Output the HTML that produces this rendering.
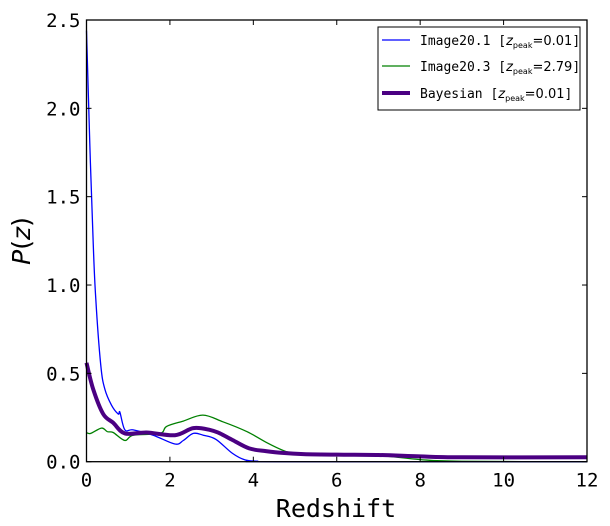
<!DOCTYPE html>
<html><head><meta charset="utf-8"><style>
body{margin:0;background:#fff;}
svg{display:block;}
.tk{font-family:"DejaVu Sans Mono","Liberation Mono",monospace;font-size:19px;fill:#000;}
</style></head><body>
<svg id="chart" width="610" height="526" xmlns="http://www.w3.org/2000/svg">
<g id="plot"></g>
</svg>
<script>
const xTicks=[0,2,4,6,8,10,12];
const xTickLabels=["0","2","4","6","8","10","12"];
const yTicks=[0,0.5,1,1.5,2,2.5];
const yTickLabels=["0.0","0.5","1.0","1.5","2.0","2.5"];
const blueZ=[0,0.08,0.16,0.22,0.34,0.44,0.6,0.76,0.8,0.92,1.12,1.6,2.12,2.32,2.56,2.8,3.1,3.5,3.8,4.1,4.5,12];
const blueP=[2.44,1.8,1.24,0.93,0.55,0.41,0.32,0.27,0.28,0.18,0.18,0.15,0.10,0.12,0.16,0.15,0.127,0.047,0.01,0.003,0,0];
const greenZ=[0,0.1,0.36,0.5,0.64,0.92,1.12,1.76,1.92,2.32,2.79,3.27,3.85,4.33,4.73,4.9,5.3,6,7,8,9,12];
const greenP=[0.164,0.16,0.19,0.17,0.165,0.12,0.15,0.16,0.2,0.23,0.264,0.226,0.17,0.107,0.062,0.052,0.045,0.04,0.035,0.012,0.002,0];
const bayesZ=[0,0.16,0.4,0.64,0.92,1.44,2.12,2.56,2.96,3.2,3.5,3.9,4.3,4.7,5.2,6,7,8,9,12];
const bayesP=[0.56,0.41,0.27,0.22,0.16,0.165,0.15,0.19,0.18,0.16,0.123,0.075,0.06,0.05,0.043,0.04,0.038,0.03,0.025,0.025];

const L=86.5,R=587,T=20,B=461.7;
const xs=z=>L+(z-0)/12*(R-L);
const ys=p=>B-p/2.5*(B-T);
const NS="http://www.w3.org/2000/svg";
const g=document.getElementById('plot');
function mk(t,a){const e=document.createElementNS(NS,t);for(const k in a)e.setAttribute(k,a[k]);g.appendChild(e);return e;}
function smoothPath(zs,ps){
  const P=zs.map((z,i)=>[xs(z),ys(ps[i])]);
  let d='M'+P[0][0].toFixed(1)+','+P[0][1].toFixed(1);
  for(let i=0;i<P.length-1;i++){
    const p0=P[Math.max(0,i-1)],p1=P[i],p2=P[i+1],p3=P[Math.min(P.length-1,i+2)];
    const c1=[p1[0]+(p2[0]-p0[0])/6,p1[1]+(p2[1]-p0[1])/6];
    const c2=[p2[0]-(p3[0]-p1[0])/6,p2[1]-(p3[1]-p1[1])/6];
    d+=' C'+c1.map(v=>v.toFixed(1)).join(',')+' '+c2.map(v=>v.toFixed(1)).join(',')+' '+p2.map(v=>v.toFixed(1)).join(',');
  }
  return d;
}
function series(zs,ps,color,w,name){
  const e=mk('path',{d:smoothPath(zs,ps),fill:'none',stroke:color,'stroke-width':w,'stroke-linejoin':'round'});
  
  
}
series(greenZ,greenP,'#008000',1.3,'image20-3-line');
series(blueZ,blueP,'#0000ff',1.3,'image20-1-line');
series(bayesZ,bayesP,'#4b0082',4,'bayesian-line');
const fr=mk('rect',{x:L,y:T,width:R-L,height:B-T,fill:'none',stroke:'#000','stroke-width':1.3});


xTicks.forEach((v,i)=>{
  const x=xs(v);
  mk('line',{x1:x,x2:x,y1:B,y2:B-5,stroke:'#000'});
  mk('line',{x1:x,x2:x,y1:T,y2:T+5,stroke:'#000'});
  const t=mk('text',{x:x,y:B+25,'text-anchor':'middle',class:'tk'});t.textContent=xTickLabels[i];
  
  
});
yTicks.forEach((v,i)=>{
  const y=ys(v);
  mk('line',{x1:L,x2:L+5,y1:y,y2:y,stroke:'#000'});
  mk('line',{x1:R,x2:R-5,y1:y,y2:y,stroke:'#000'});
  const t=mk('text',{x:L-6,y:y+7,'text-anchor':'end',class:'tk'});t.textContent=yTickLabels[i];
  
  
});
</script>
<svg style="position:absolute;left:0;top:0" width="610" height="526" xmlns="http://www.w3.org/2000/svg">
<text x="336" y="517" text-anchor="middle" font-family="DejaVu Sans Mono, monospace" font-size="25">Redshift</text>
<text transform="translate(30,241) rotate(-90)" text-anchor="middle" font-family="DejaVu Sans, sans-serif" font-size="25"><tspan font-style="italic">P</tspan>(<tspan font-style="italic">z</tspan>)</text>
<g font-family="DejaVu Sans Mono, monospace" font-size="13">
<rect x="378" y="27" width="202" height="83" fill="#fff" stroke="#000" stroke-width="1"/>
<g>
<line x1="382" x2="410" y1="40" y2="40" stroke="#0000ff" stroke-width="1.3"/>
<text x="420" y="45">Image20.1 [<tspan font-family="DejaVu Sans" font-style="italic">z</tspan><tspan font-family="DejaVu Sans" font-size="8" dy="3">peak</tspan><tspan font-family="DejaVu Sans" dy="-3">=0.01</tspan>]</text>
</g>
<g>
<line x1="382" x2="410" y1="66" y2="66" stroke="#008000" stroke-width="1.3"/>
<text x="420" y="71">Image20.3 [<tspan font-family="DejaVu Sans" font-style="italic">z</tspan><tspan font-family="DejaVu Sans" font-size="8" dy="3">peak</tspan><tspan font-family="DejaVu Sans" dy="-3">=2.79</tspan>]</text>
</g>
<g>
<line x1="382" x2="410" y1="93" y2="93" stroke="#4b0082" stroke-width="4"/>
<text x="420" y="98">Bayesian [<tspan font-family="DejaVu Sans" font-style="italic">z</tspan><tspan font-family="DejaVu Sans" font-size="8" dy="3">peak</tspan><tspan font-family="DejaVu Sans" dy="-3">=0.01</tspan>]</text>
</g>
</g>
</svg>
</body></html>
